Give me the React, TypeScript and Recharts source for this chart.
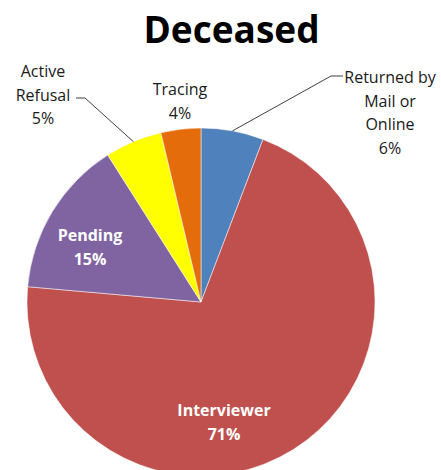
import { PieChart, Pie, Cell } from "recharts";

const categories = ["Returned by Mail or Online", "Interviewer", "Pending", "Active Refusal", "Tracing"];
const shares = [5.8, 70.6, 14.6, 5.3, 3.7];
const pctLabels = ["6%", "71%", "15%", "5%", "4%"];
const colors = ["#4F81BD", "#C0504D", "#8064A2", "#FFFF00", "#E46C0A"];

const data = categories.map((name, i) => ({ name, value: shares[i], pct: pctLabels[i] }));

const FONT = "'Open Sans', Lato, sans-serif";
const RAD = Math.PI / 180;

// where each label sits relative to the pie centre (Excel "best fit" style)
const labelPlace: Record<string, { dx: number; dy: number; lines: string[]; inside?: boolean; leader?: "left" | "right" }> = {
  "Returned by Mail or Online": { dx: 189, dy: -225, lines: ["Returned by", "Mail or", "Online"], leader: "right" },
  Interviewer: { dx: 23, dy: 108, lines: ["Interviewer"], inside: true },
  Pending: { dx: -111, dy: -67, lines: ["Pending"], inside: true },
  "Active Refusal": { dx: -158, dy: -231, lines: ["Active", "Refusal"], leader: "left" },
  Tracing: { dx: -21, dy: -213, lines: ["Tracing"] },
};

const renderLabel = (props: any) => {
  const { cx, cy, midAngle, outerRadius, index } = props;
  const d = data[index];
  const p = labelPlace[d.name];
  const x = cx + p.dx;
  const y0 = cy + p.dy;
  const lh = 23.5;
  const lines = [...p.lines, d.pct];
  const ex = cx + outerRadius * Math.cos(-midAngle * RAD);
  const ey = cy + outerRadius * Math.sin(-midAngle * RAD);
  let leader = null;
  if (p.leader === "right") {
    const hx = x - 59;
    const hy = y0 - 1;
    leader = <polyline points={`${ex},${ey} ${hx},${hy} ${hx + 12},${hy}`} fill="none" stroke="#404040" strokeWidth={1} />;
  } else if (p.leader === "left") {
    const hx = x + 33;
    const hy = y0 + 27;
    leader = <polyline points={`${ex},${ey} ${hx + 9},${hy} ${hx},${hy}`} fill="none" stroke="#404040" strokeWidth={1} />;
  }
  return (
    <g key={`lbl-${index}`}>
      {leader}
      <text
        x={x}
        y={y0}
        textAnchor="middle"
        dominantBaseline="central"
        fontFamily={FONT}
        fontSize={16}
        fontWeight={p.inside ? 700 : 400}
        fill={p.inside ? "#FFFFFF" : "#1a1a1a"}
      >
        {lines.map((t, i) => (
          <tspan key={i} x={x} dy={i === 0 ? 0 : lh}>
            {t}
          </tspan>
        ))}
      </text>
    </g>
  );
};

export default function App() {
  return (
    <div style={{ position: "absolute", left: 0, top: 0, width: 441, height: 470, background: "#fff" }}>
      <div
        style={{
          position: "absolute",
          left: 0,
          top: 3,
          width: 463,
          textAlign: "center",
          fontFamily: FONT,
          fontWeight: 700,
          fontSize: 37,
          color: "#000",
        }}
      >
        Deceased
      </div>
      <PieChart width={441} height={470} margin={{ top: 0, right: 0, bottom: 0, left: 0 }}>
        <Pie
          data={data}
          dataKey="value"
          nameKey="name"
          cx={201}
          cy={302}
          outerRadius={174}
          startAngle={90}
          endAngle={-270}
          stroke="#ffffff"
          strokeWidth={0.5}
          label={renderLabel}
          labelLine={false}
          isAnimationActive={false}
        >
          {data.map((d, i) => (
            <Cell key={d.name} fill={colors[i]} />
          ))}
        </Pie>
      </PieChart>
    </div>
  );
}
